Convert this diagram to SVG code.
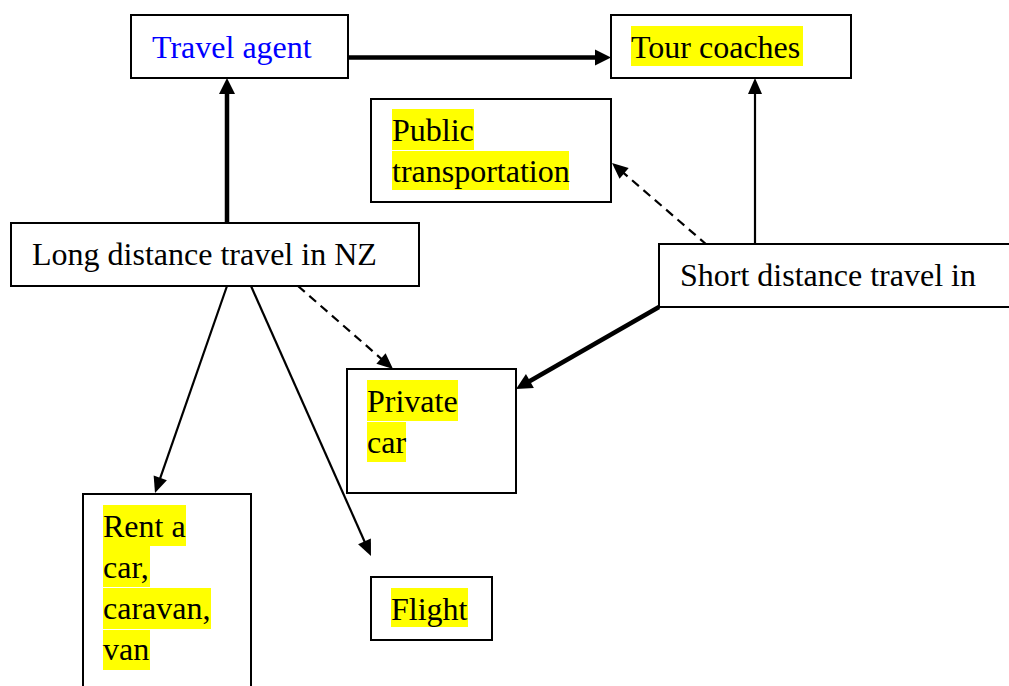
<svg xmlns="http://www.w3.org/2000/svg" width="1009" height="686" viewBox="0 0 1009 686">
  <style>
    .box { fill: #ffffff; stroke: #000000; stroke-width: 2; }
    text { font-family: 'Liberation Serif', 'Times New Roman', Times, 'Nimbus Roman', 'DejaVu Serif', serif; font-size: 32px; fill: #000000; }
    .blue { fill: #0000ff; }
    .hl { fill: #ffff00; }
    .thick { stroke: #000000; stroke-width: 4.5; fill: none; marker-end: url(#headBig); }
    .thin { stroke: #000000; stroke-width: 2.2; fill: none; marker-end: url(#headSmall); }
    .dash { stroke: #000000; stroke-width: 2.2; fill: none; stroke-dasharray: 9 6; marker-end: url(#headSmall); }
  </style>
  <defs>
    <marker id="headBig" markerUnits="userSpaceOnUse" markerWidth="16" markerHeight="16" refX="2" refY="8" orient="auto" overflow="visible">
      <path d="M0,0 L16,8 L0,16 z" fill="#000000"/>
    </marker>
    <marker id="headSmall" markerUnits="userSpaceOnUse" markerWidth="16" markerHeight="14" refX="2" refY="7" orient="auto" overflow="visible">
      <path d="M0,0 L16,7 L0,14 z" fill="#000000"/>
    </marker>
  </defs>

  <rect width="1009" height="686" fill="#ffffff"/>

  <!-- connectors -->
  <g id="connectors">
    <line class="thick" x1="348" y1="57.5" x2="597" y2="57.5"/>
    <line class="thick" x1="227" y1="223" x2="227" y2="92"/>
    <line class="thin" x1="755" y1="244" x2="755" y2="92"/>
    <line class="dash" x1="707" y1="245" x2="622.6" y2="172.1"/>
    <line class="thick" x1="659" y1="307" x2="528.2" y2="382"/>
    <line class="dash" x1="298" y1="286" x2="382.5" y2="359.8"/>
    <line class="thin" x1="227" y1="286" x2="159.6" y2="479.8"/>
    <line class="thin" x1="251" y1="286" x2="365.3" y2="543.2"/>
  </g>

  <!-- nodes -->
  <g id="travel-agent">
    <rect class="box" x="131" y="15" width="217" height="63"/>
    <text class="blue" x="152" y="58" font-family="Liberation Serif, serif">Travel agent</text>
  </g>

  <g id="tour-coaches">
    <rect class="box" x="611" y="15" width="240" height="63"/>
    <rect class="hl" x="631" y="26" width="172" height="40"/>
    <text x="631" y="58">Tour coaches</text>
  </g>

  <g id="public-transportation">
    <rect class="box" x="371" y="99" width="240" height="103"/>
    <rect class="hl" x="392" y="109" width="82" height="41"/>
    <rect class="hl" x="392" y="151" width="177" height="39"/>
    <text x="392" y="141">Public</text>
    <text x="392" y="182">transportation</text>
  </g>

  <g id="long-distance">
    <rect class="box" x="11" y="223" width="408" height="63"/>
    <text x="32" y="265">Long distance travel in NZ</text>
  </g>

  <g id="short-distance">
    <rect class="box" x="659" y="244" width="370" height="63"/>
    <text x="680" y="286">Short distance travel in</text>
  </g>

  <g id="private-car">
    <rect class="box" x="347" y="369" width="169" height="124"/>
    <rect class="hl" x="367" y="380" width="91" height="41"/>
    <rect class="hl" x="367" y="422" width="39" height="40"/>
    <text x="367" y="412">Private</text>
    <text x="367" y="453">car</text>
  </g>

  <g id="rent-a-car">
    <rect class="box" x="83" y="494" width="168" height="210"/>
    <rect class="hl" x="103" y="505" width="83" height="41"/>
    <rect class="hl" x="103" y="546" width="47" height="41"/>
    <rect class="hl" x="103" y="588" width="108" height="41"/>
    <rect class="hl" x="103" y="630" width="47" height="40"/>
    <text x="103" y="537">Rent a</text>
    <text x="103" y="578">car,</text>
    <text x="103" y="619">caravan,</text>
    <text x="103" y="660">van</text>
  </g>

  <g id="flight">
    <rect class="box" x="371" y="577" width="121" height="63"/>
    <rect class="hl" x="391" y="588" width="77" height="39"/>
    <text x="391" y="620">Flight</text>
  </g>
</svg>
